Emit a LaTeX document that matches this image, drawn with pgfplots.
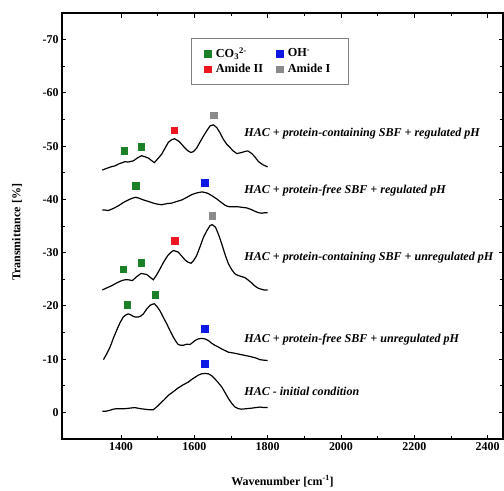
\documentclass[border=0pt]{standalone}
\usepackage{pgfplots}
\pgfplotsset{compat=1.18}
\usepackage{fontspec}
\setmainfont{Liberation Serif}

\definecolor{cgreen}{RGB}{28,128,40}
\definecolor{cred}{RGB}{238,22,30}
\definecolor{cblue}{RGB}{12,24,228}
\definecolor{cgray}{RGB}{138,138,138}

\begin{document}
\begin{tikzpicture}
\path[use as bounding box] (0,0) rectangle (504bp,491bp);
\begin{axis}[
  at={(62bp,52bp)}, anchor=south west,
  scale only axis, width=441bp, height=426bp,
  xmin=1239, xmax=2442, ymin=-75, ymax=5, y dir=reverse,
  xtick={1400,1600,...,2400}, ytick={-70,-60,...,0},
  minor x tick num=1, minor y tick num=1,
  tick align=inside,
  major tick length=4.5bp, minor tick length=2.8bp,
  axis line style={line width=1.1pt},
  every tick/.style={black, line width=0.9pt},
  /pgf/number format/assume math mode=true,
  /pgf/number format/1000 sep={},
  tick label style={font=\fontsize{12}{14}\selectfont\bfseries},
  xlabel={Wavenumber [cm\textsuperscript{-1}]},
  ylabel={Transmittance [\%]},
  label style={font=\fontsize{12}{14}\selectfont\bfseries},
  xlabel style={at={(axis description cs:0.5,-0.099)}, anchor=center},
  ylabel style={at={(axis description cs:-0.102,0.485)}, anchor=center},
  legend columns=2,
  legend style={at={(axis cs:1591,-70.3)}, anchor=north west,
    draw=gray, line width=0.5pt, inner xsep=13bp, inner ysep=7bp,
    font=\fontsize{12.3}{14}\selectfont\bfseries,
    nodes={inner ysep=2.5bp, inner xsep=5bp},
    /tikz/every even column/.append style={column sep=8bp}},
  legend cell align=left,
  clip=false,
]
% spectra
\addplot[black, line width=1.2pt, forget plot] coordinates {
(1349,-45.5) (1360,-45.8) (1372,-46.1) (1384,-46.3) (1395,-46.7) (1404,-46.9) (1411,-47.1) (1418,-47.0) (1425,-47.1)
(1434,-47.25) (1445,-47.8) (1456,-48.2) (1465,-48.0) (1475,-47.75) (1483,-47.3) (1491,-46.9)
(1500,-47.6) (1511,-48.5) (1520,-49.6) (1529,-50.7) (1538,-51.2) (1546,-51.4) (1558,-50.9)
(1566,-50.3) (1575,-49.6) (1583,-49.1) (1591,-48.8) (1598,-49.0) (1606,-49.6) (1615,-50.7)
(1625,-51.9) (1634,-52.9) (1643,-53.8) (1652,-54.0) (1661,-53.5) (1670,-52.5) (1679,-51.3)
(1688,-50.4) (1697,-49.75) (1706,-49.1) (1716,-48.6) (1722,-48.7) (1729,-48.8) (1738,-49.0)
(1746,-49.1) (1757,-48.6) (1766,-47.9) (1775,-47.1) (1787,-46.5) (1800,-46.1)
};
\addplot[black, line width=1.2pt, forget plot] coordinates {
(1349,-38.0) (1357,-38.0) (1365,-37.9) (1379,-38.3) (1393,-38.8) (1406,-39.4) (1420,-39.9)
(1430,-40.2) (1440,-40.4) (1450,-40.2) (1461,-39.9) (1475,-39.6) (1488,-39.3) (1500,-39.1)
(1511,-39.0) (1525,-39.2) (1538,-39.3) (1552,-39.6) (1566,-39.9) (1580,-40.4) (1593,-40.9)
(1606,-41.2) (1620,-41.4) (1629,-41.3) (1638,-41.1) (1650,-40.6) (1661,-40.1) (1672,-39.5)
(1684,-38.9) (1690,-38.7) (1697,-38.6) (1708,-38.6) (1720,-38.6) (1731,-38.5) (1743,-38.4)
(1755,-38.1) (1766,-37.75) (1775,-37.5) (1784,-37.4) (1792,-37.5) (1800,-37.5)
};
\addplot[black, line width=1.2pt, forget plot] coordinates {
(1349,-23.0) (1362,-23.4) (1375,-23.8) (1388,-24.3) (1402,-24.75) (1411,-24.9) (1420,-24.9)
(1431,-24.75) (1443,-25.5) (1455,-26.1) (1462,-26.0) (1470,-25.9) (1479,-25.4) (1488,-24.9)
(1497,-25.8) (1506,-26.9) (1516,-28.2) (1527,-29.4) (1535,-30.0) (1543,-30.4) (1556,-30.1)
(1565,-29.4) (1575,-28.6) (1583,-28.2) (1591,-28.0) (1598,-28.5) (1606,-29.4) (1615,-31.0)
(1625,-32.9) (1634,-34.1) (1643,-35.1) (1649,-35.25) (1658,-34.75) (1666,-33.4) (1675,-31.6)
(1684,-29.6) (1693,-27.9) (1702,-26.8) (1711,-26.0) (1720,-25.7) (1729,-25.5) (1738,-25.3)
(1746,-24.9) (1755,-24.4) (1764,-23.8) (1772,-23.4) (1779,-23.2) (1790,-23.0) (1800,-23.0)
};
\addplot[black, line width=1.2pt, forget plot] coordinates {
(1352,-9.9) (1361,-11.0) (1370,-12.25) (1379,-13.9) (1388,-15.4) (1397,-16.8) (1406,-17.9)
(1413,-18.3) (1420,-18.5) (1427,-18.3) (1434,-18.0) (1440,-17.9) (1447,-17.9) (1454,-18.1)
(1461,-18.5) (1470,-19.4) (1479,-20.1) (1485,-20.3) (1491,-20.4) (1498,-19.9) (1506,-19.1)
(1515,-17.9) (1525,-16.6) (1534,-15.3) (1543,-14.1) (1550,-13.3) (1556,-12.75) (1563,-12.6)
(1570,-12.6) (1579,-12.8) (1588,-12.75) (1595,-13.1) (1602,-13.5) (1611,-13.8) (1620,-13.9)
(1629,-13.8) (1638,-13.5) (1647,-13.0) (1656,-12.6) (1665,-12.3) (1675,-11.9) (1684,-11.6)
(1693,-11.3) (1702,-11.2) (1711,-11.1) (1724,-10.9) (1738,-10.7) (1752,-10.5) (1766,-10.25)
(1772,-10.1) (1779,-9.9) (1790,-9.8) (1800,-9.75)
};
\addplot[black, line width=1.2pt, forget plot] coordinates {
(1349,-0.2) (1358,-0.2) (1364,-0.3) (1370,-0.4) (1379,-0.6) (1388,-0.7) (1398,-0.7)
(1411,-0.7) (1424,-0.8) (1438,-0.9) (1452,-0.7) (1465,-0.6) (1476,-0.5) (1488,-0.5)
(1497,-1.0) (1506,-1.6) (1518,-2.4) (1529,-3.2) (1543,-3.9) (1556,-4.6) (1570,-5.2)
(1584,-5.7) (1593,-6.2) (1602,-6.6) (1611,-7.0) (1620,-7.25) (1629,-7.3) (1638,-7.25)
(1647,-6.9) (1656,-6.3) (1665,-5.6) (1675,-4.75) (1684,-3.7) (1693,-2.6) (1702,-1.7)
(1711,-1.0) (1720,-0.7) (1729,-0.6) (1743,-0.7) (1757,-0.8) (1768,-0.9) (1779,-1.0)
(1790,-0.9) (1800,-0.9)
};
% band markers
\addplot[only marks, mark=square*, mark size=3.3bp, cgreen, mark options={draw=cgreen, fill=cgreen}]
  coordinates {(1409,-49.1) (1455,-49.9) (1440,-42.6) (1406,-26.9) (1455,-28.1) (1417,-20.25) (1493,-22.1)};
\addlegendentry{CO\textsubscript{3}\textsuperscript{2-}}
\addplot[only marks, mark=square*, mark size=3.3bp, cblue, mark options={draw=cblue, fill=cblue}]
  coordinates {(1629,-43.1) (1629,-15.7) (1629,-9.1)};
\addlegendentry{OH\textsuperscript{-}}
\addplot[only marks, mark=square*, mark size=3.3bp, cred, mark options={draw=cred, fill=cred}]
  coordinates {(1545,-53.0) (1547,-32.25)};
\addlegendentry{Amide II}
\addplot[only marks, mark=square*, mark size=3.3bp, cgray, mark options={draw=cgray, fill=cgray}]
  coordinates {(1652,-55.8) (1649,-36.9)};
\addlegendentry{Amide I}
% sample labels
\begin{scope}[every node/.style={anchor=west, inner sep=0pt, font=\fontsize{12.1}{14}\selectfont\bfseries\itshape}]
\node at (axis cs:1736,-52.3) {HAC + protein-containing SBF + regulated pH};
\node at (axis cs:1736,-41.6) {HAC + protein-free SBF + regulated pH};
\node at (axis cs:1736,-29.1) {HAC + protein-containing SBF + unregulated pH};
\node at (axis cs:1736,-13.7) {HAC + protein-free SBF + unregulated pH};
\node at (axis cs:1736,-3.9) {HAC - initial condition};
\end{scope}
\end{axis}
\end{tikzpicture}
\end{document}
